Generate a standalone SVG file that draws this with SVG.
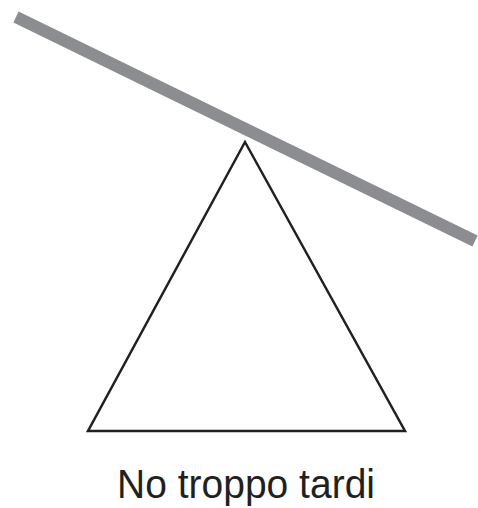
<svg xmlns="http://www.w3.org/2000/svg" width="478" height="508" viewBox="0 0 478 508">
<style>
.bar{stroke:#8c8d90;stroke-width:12;stroke-linecap:butt}
.tri{fill:#fff;stroke:#231f20;stroke-width:2.5;stroke-linejoin:miter}
.lbl{font-family:"Liberation Sans",Arial,sans-serif;font-size:41px;fill:#231f20}
</style>
<rect width="478" height="508" fill="#fff"/>
<g id="fulcrum"><polygon class="tri" points="245,142 88,431 405,431"/></g>
<g id="lever"><line class="bar" x1="16" y1="17" x2="475" y2="241"/></g>
<g id="label"><text class="lbl" x="246" y="498" text-anchor="middle" textLength="258" lengthAdjust="spacingAndGlyphs">No troppo tardi</text></g>
</svg>
